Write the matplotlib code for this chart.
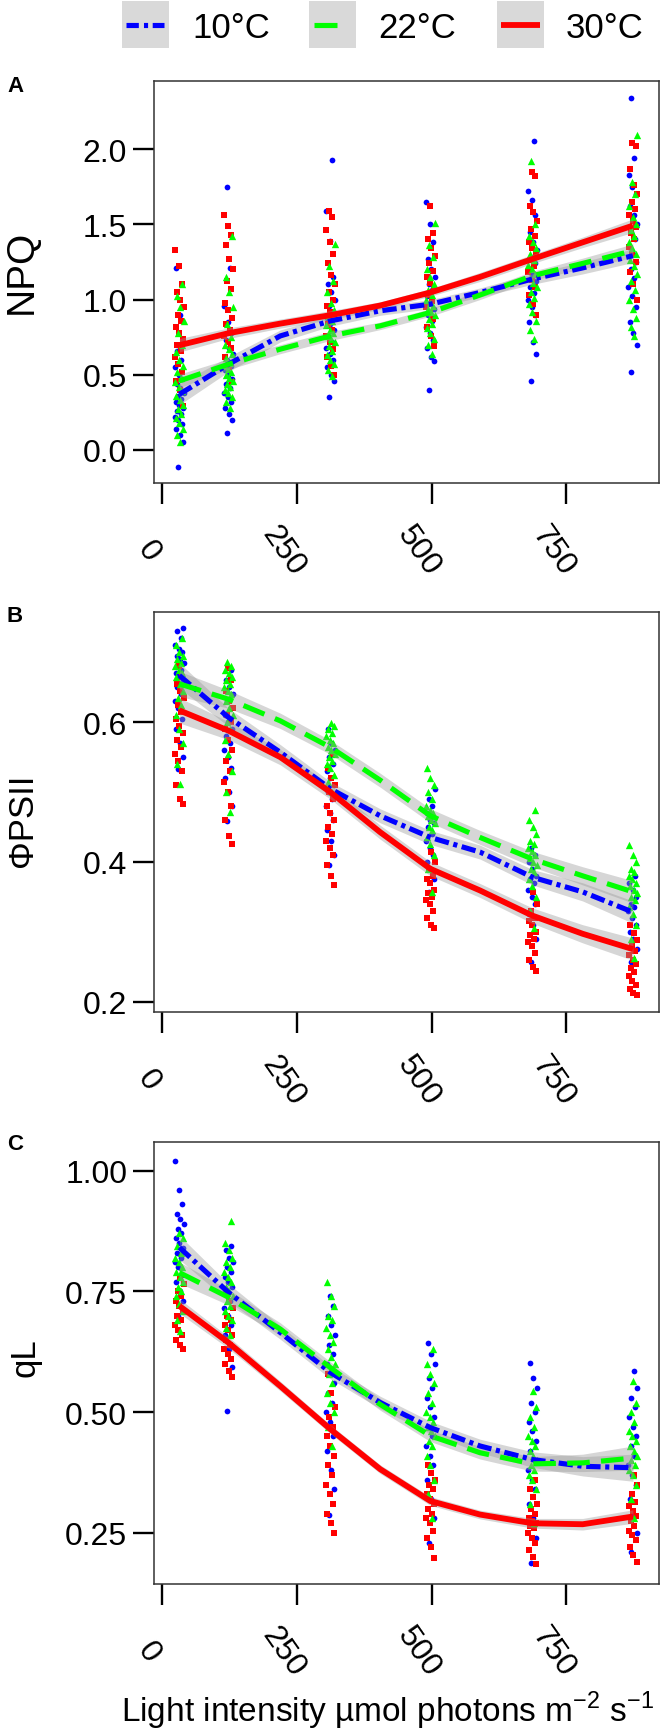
import numpy as np
import matplotlib
matplotlib.use("Agg")
import matplotlib.pyplot as plt
from matplotlib import transforms
from matplotlib.patches import Rectangle

plt.rcParams['font.family'] = ['Liberation Sans', 'DejaVu Sans']

# ---------------- data ----------------
temps = ["10°C", "22°C", "30°C"]
light_levels = [33, 124, 313, 498, 687, 873]
curve_x = [33, 124, 220, 313, 405, 498, 590, 687, 780, 873]

# NPQ (panel A) raw points per light level
npq_10 = [
    [-0.11, 0.05, 0.10, 0.14, 0.17, 0.20, 0.22, 0.24, 0.26, 0.28, 0.30, 0.32, 0.34, 0.36, 0.38, 0.41, 0.44, 0.47, 0.50, 0.55, 0.60, 0.66, 0.72, 0.90, 1.21],
    [0.11, 0.20, 0.24, 0.28, 0.32, 0.35, 0.38, 0.41, 0.44, 0.47, 0.50, 0.53, 0.56, 0.60, 0.64, 0.68, 0.73, 0.78, 0.85, 0.96, 1.21, 1.75],
    [0.35, 0.46, 0.50, 0.55, 0.60, 0.64, 0.68, 0.72, 0.76, 0.80, 0.84, 0.88, 0.92, 0.96, 1.00, 1.05, 1.10, 1.15, 1.39, 1.59, 1.93],
    [0.40, 0.59, 0.62, 0.68, 0.73, 0.78, 0.82, 0.86, 0.90, 0.94, 0.98, 1.02, 1.06, 1.10, 1.15, 1.20, 1.27, 1.38, 1.50, 1.65],
    [0.46, 0.64, 0.72, 0.85, 0.90, 0.95, 1.00, 1.04, 1.08, 1.12, 1.16, 1.20, 1.24, 1.28, 1.33, 1.38, 1.45, 1.56, 1.66, 1.72, 2.05],
    [0.52, 0.70, 0.78, 0.85, 0.95, 1.02, 1.08, 1.14, 1.20, 1.25, 1.30, 1.35, 1.40, 1.45, 1.50, 1.56, 1.62, 1.70, 1.75, 1.83, 1.94, 2.34],
]
npq_22 = [
    [0.05, 0.10, 0.14, 0.18, 0.21, 0.24, 0.27, 0.30, 0.33, 0.36, 0.39, 0.42, 0.45, 0.48, 0.52, 0.56, 0.60, 0.65, 0.70, 0.78, 0.86, 0.95, 1.02, 1.10],
    [0.28, 0.32, 0.35, 0.38, 0.40, 0.42, 0.44, 0.46, 0.48, 0.50, 0.52, 0.54, 0.56, 0.58, 0.61, 0.64, 0.67, 0.70, 0.75, 0.84, 0.95, 1.05, 1.15, 1.42],
    [0.49, 0.53, 0.57, 0.60, 0.63, 0.66, 0.69, 0.72, 0.74, 0.76, 0.78, 0.80, 0.83, 0.86, 0.89, 0.93, 0.98, 1.05, 1.12, 1.22, 1.37],
    [0.64, 0.70, 0.74, 0.78, 0.81, 0.84, 0.87, 0.90, 0.92, 0.94, 0.96, 0.98, 1.00, 1.03, 1.06, 1.10, 1.15, 1.20, 1.28, 1.36, 1.51],
    [0.74, 0.80, 0.86, 0.92, 0.97, 1.01, 1.05, 1.08, 1.11, 1.14, 1.17, 1.20, 1.23, 1.26, 1.30, 1.34, 1.38, 1.42, 1.50, 1.92],
    [0.76, 0.82, 0.88, 0.94, 1.00, 1.06, 1.12, 1.17, 1.22, 1.26, 1.30, 1.34, 1.38, 1.42, 1.46, 1.50, 1.55, 1.62, 1.70, 1.78, 2.09],
]
npq_30 = [
    [0.29, 0.40, 0.46, 0.52, 0.57, 0.62, 0.66, 0.70, 0.74, 0.78, 0.82, 0.86, 0.90, 0.95, 1.00, 1.05, 1.10, 1.22, 1.33],
    [0.45, 0.55, 0.62, 0.68, 0.72, 0.76, 0.80, 0.84, 0.88, 0.93, 0.98, 1.07, 1.12, 1.20, 1.27, 1.36, 1.43, 1.49, 1.56],
    [0.50, 0.56, 0.62, 0.67, 0.72, 0.76, 0.80, 0.84, 0.88, 0.92, 0.96, 1.00, 1.05, 1.10, 1.16, 1.24, 1.30, 1.38, 1.46, 1.55, 1.59],
    [0.69, 0.76, 0.82, 0.87, 0.91, 0.95, 0.99, 1.03, 1.07, 1.11, 1.15, 1.19, 1.24, 1.29, 1.34, 1.40, 1.44, 1.62],
    [0.90, 0.97, 1.03, 1.08, 1.13, 1.18, 1.22, 1.26, 1.30, 1.34, 1.38, 1.42, 1.47, 1.52, 1.58, 1.62, 1.82, 1.85],
    [1.00, 1.10, 1.18, 1.25, 1.30, 1.35, 1.40, 1.44, 1.48, 1.52, 1.56, 1.60, 1.65, 1.70, 1.76, 1.87, 2.02, 2.04],
]
npq_fit_10 = [0.37, 0.57, 0.758, 0.858, 0.925, 0.969, 1.047, 1.136, 1.21, 1.291]
npq_fit_22 = [0.459, 0.57, 0.67, 0.758, 0.825, 0.914, 1.03, 1.158, 1.24, 1.324]
npq_fit_30 = [0.696, 0.776, 0.84, 0.896, 0.96, 1.047, 1.15, 1.269, 1.38, 1.491]
npq_se_10 = [0.07, 0.05, 0.04, 0.035, 0.03, 0.03, 0.03, 0.035, 0.04, 0.045]
npq_se_22 = [0.045, 0.035, 0.03, 0.03, 0.025, 0.025, 0.03, 0.03, 0.035, 0.045]
npq_se_30 = [0.045, 0.035, 0.03, 0.03, 0.025, 0.025, 0.03, 0.03, 0.035, 0.045]

# PhiPSII (panel B)
phi_10 = [
    [0.533, 0.55, 0.57, 0.59, 0.605, 0.62, 0.63, 0.64, 0.65, 0.66, 0.665, 0.67, 0.675, 0.68, 0.685, 0.69, 0.695, 0.70, 0.705, 0.71, 0.72, 0.73, 0.735],
    [0.459, 0.48, 0.50, 0.52, 0.535, 0.55, 0.56, 0.57, 0.58, 0.59, 0.60, 0.61, 0.62, 0.63, 0.64, 0.65, 0.66, 0.675],
    [0.395, 0.41, 0.43, 0.445, 0.46, 0.47, 0.48, 0.49, 0.50, 0.51, 0.52, 0.53, 0.54, 0.55, 0.56, 0.57, 0.59],
    [0.357, 0.375, 0.39, 0.40, 0.41, 0.42, 0.43, 0.44, 0.45, 0.455, 0.46, 0.47, 0.48, 0.49, 0.505],
    [0.256, 0.29, 0.31, 0.325, 0.34, 0.35, 0.36, 0.37, 0.375, 0.38, 0.39, 0.40, 0.41, 0.42],
    [0.256, 0.275, 0.29, 0.30, 0.31, 0.32, 0.33, 0.335, 0.34, 0.35, 0.36, 0.37, 0.38],
]
phi_22 = [
    [0.512, 0.54, 0.57, 0.59, 0.61, 0.625, 0.635, 0.645, 0.655, 0.665, 0.67, 0.675, 0.68, 0.685, 0.69, 0.695, 0.70, 0.71, 0.72],
    [0.471, 0.50, 0.53, 0.555, 0.575, 0.59, 0.60, 0.61, 0.62, 0.63, 0.64, 0.645, 0.65, 0.655, 0.66, 0.665, 0.67, 0.675, 0.68, 0.686],
    [0.50, 0.515, 0.525, 0.535, 0.54, 0.545, 0.55, 0.555, 0.56, 0.565, 0.57, 0.575, 0.58, 0.585, 0.59, 0.595, 0.599],
    [0.357, 0.39, 0.41, 0.425, 0.435, 0.445, 0.45, 0.455, 0.46, 0.465, 0.47, 0.475, 0.48, 0.49, 0.50, 0.51, 0.52, 0.535],
    [0.306, 0.33, 0.35, 0.365, 0.375, 0.385, 0.39, 0.395, 0.40, 0.405, 0.41, 0.415, 0.42, 0.425, 0.43, 0.44, 0.45, 0.46, 0.474],
    [0.263, 0.29, 0.31, 0.325, 0.335, 0.345, 0.35, 0.355, 0.36, 0.365, 0.37, 0.375, 0.38, 0.385, 0.39, 0.40, 0.41, 0.424],
]
phi_30 = [
    [0.483, 0.49, 0.51, 0.53, 0.545, 0.555, 0.565, 0.575, 0.585, 0.595, 0.605, 0.615, 0.625, 0.635, 0.645, 0.655, 0.665, 0.68],
    [0.426, 0.437, 0.46, 0.48, 0.50, 0.515, 0.53, 0.545, 0.56, 0.575, 0.59, 0.60, 0.61, 0.62, 0.63, 0.645, 0.66, 0.677],
    [0.367, 0.38, 0.395, 0.41, 0.42, 0.43, 0.44, 0.45, 0.46, 0.47, 0.48, 0.49, 0.50, 0.51, 0.52, 0.535, 0.555],
    [0.305, 0.31, 0.32, 0.33, 0.34, 0.345, 0.35, 0.355, 0.36, 0.37, 0.375, 0.38, 0.39, 0.40, 0.414],
    [0.244, 0.25, 0.26, 0.27, 0.28, 0.285, 0.29, 0.295, 0.30, 0.31, 0.315, 0.32, 0.33, 0.34, 0.357],
    [0.209, 0.212, 0.218, 0.224, 0.23, 0.236, 0.242, 0.248, 0.254, 0.26, 0.266, 0.272, 0.28, 0.288, 0.298, 0.31],
]
phi_fit_10 = [0.667, 0.607, 0.557, 0.5045, 0.466, 0.435, 0.414, 0.378, 0.357, 0.328]
phi_fit_22 = [0.655, 0.633, 0.602, 0.564, 0.517, 0.466, 0.435, 0.404, 0.380, 0.357]
phi_fit_30 = [0.617, 0.588, 0.550, 0.4998, 0.4425, 0.390, 0.359, 0.323, 0.297, 0.275]
phi_se_10 = [0.018, 0.013, 0.011, 0.01, 0.01, 0.01, 0.01, 0.011, 0.013, 0.016]
phi_se_22 = [0.018, 0.013, 0.011, 0.01, 0.01, 0.01, 0.01, 0.011, 0.013, 0.016]
phi_se_30 = [0.018, 0.013, 0.011, 0.01, 0.01, 0.01, 0.01, 0.011, 0.013, 0.016]

# qL (panel C)
ql_10 = [
    [0.70, 0.73, 0.75, 0.77, 0.785, 0.80, 0.81, 0.82, 0.83, 0.84, 0.85, 0.86, 0.87, 0.88, 0.89, 0.90, 0.91, 0.93, 0.96, 1.021],
    [0.502, 0.594, 0.63, 0.66, 0.68, 0.70, 0.715, 0.73, 0.745, 0.76, 0.77, 0.78, 0.79, 0.80, 0.81, 0.82, 0.835, 0.845],
    [0.288, 0.34, 0.38, 0.42, 0.45, 0.48, 0.50, 0.52, 0.54, 0.56, 0.58, 0.60, 0.62, 0.64, 0.66, 0.68, 0.70, 0.72, 0.741],
    [0.23, 0.28, 0.32, 0.36, 0.39, 0.41, 0.43, 0.45, 0.47, 0.49, 0.51, 0.53, 0.55, 0.57, 0.60, 0.62, 0.643],
    [0.187, 0.24, 0.28, 0.31, 0.34, 0.36, 0.38, 0.40, 0.42, 0.44, 0.46, 0.48, 0.50, 0.52, 0.55, 0.57, 0.601],
    [0.21, 0.25, 0.29, 0.32, 0.35, 0.37, 0.39, 0.41, 0.43, 0.45, 0.47, 0.49, 0.51, 0.53, 0.55, 0.585],
]
ql_22 = [
    [0.668, 0.69, 0.71, 0.725, 0.74, 0.75, 0.76, 0.77, 0.78, 0.79, 0.80, 0.81, 0.82, 0.83, 0.845, 0.86, 0.87],
    [0.66, 0.675, 0.69, 0.70, 0.71, 0.72, 0.73, 0.74, 0.75, 0.76, 0.77, 0.78, 0.79, 0.80, 0.81, 0.82, 0.835, 0.85, 0.896],
    [0.43, 0.47, 0.50, 0.52, 0.54, 0.56, 0.58, 0.60, 0.615, 0.63, 0.645, 0.66, 0.675, 0.69, 0.70, 0.72, 0.74, 0.769],
    [0.28, 0.33, 0.36, 0.39, 0.41, 0.43, 0.44, 0.45, 0.46, 0.47, 0.48, 0.49, 0.50, 0.52, 0.54, 0.56, 0.58, 0.60, 0.63],
    [0.27, 0.31, 0.34, 0.36, 0.37, 0.38, 0.39, 0.40, 0.41, 0.42, 0.43, 0.44, 0.45, 0.47, 0.49, 0.51, 0.544],
    [0.28, 0.32, 0.35, 0.37, 0.38, 0.39, 0.40, 0.41, 0.42, 0.43, 0.44, 0.45, 0.46, 0.48, 0.50, 0.52, 0.565],
]
ql_30 = [
    [0.63, 0.64, 0.65, 0.66, 0.67, 0.68, 0.69, 0.70, 0.71, 0.72, 0.73, 0.74, 0.75, 0.765, 0.78],
    [0.572, 0.585, 0.60, 0.61, 0.62, 0.63, 0.64, 0.65, 0.66, 0.67, 0.68, 0.69, 0.70, 0.715, 0.73, 0.75],
    [0.25, 0.27, 0.29, 0.31, 0.33, 0.35, 0.37, 0.39, 0.41, 0.43, 0.45, 0.47, 0.49, 0.51, 0.54, 0.58],
    [0.199, 0.22, 0.24, 0.255, 0.27, 0.28, 0.29, 0.30, 0.31, 0.32, 0.33, 0.34, 0.35, 0.36, 0.375, 0.39],
    [0.185, 0.20, 0.215, 0.23, 0.24, 0.25, 0.26, 0.265, 0.27, 0.275, 0.28, 0.29, 0.30, 0.31, 0.325, 0.34, 0.36],
    [0.189, 0.205, 0.22, 0.235, 0.245, 0.255, 0.265, 0.275, 0.285, 0.295, 0.305, 0.315, 0.33, 0.35, 0.37],
]
ql_fit_10 = [0.841, 0.748, 0.665, 0.582, 0.52, 0.468, 0.43, 0.402, 0.388, 0.385]
ql_fit_22 = [0.789, 0.738, 0.672, 0.592, 0.516, 0.451, 0.416, 0.393, 0.395, 0.405]
ql_fit_30 = [0.72, 0.644, 0.554, 0.4645, 0.382, 0.316, 0.288, 0.27, 0.268, 0.284]
ql_se_10 = [0.025, 0.018, 0.014, 0.013, 0.013, 0.013, 0.014, 0.016, 0.02, 0.028]
ql_se_22 = [0.022, 0.016, 0.013, 0.012, 0.012, 0.012, 0.013, 0.015, 0.018, 0.025]
ql_se_30 = [0.015, 0.012, 0.01, 0.009, 0.009, 0.009, 0.009, 0.01, 0.012, 0.014]

x_ticks = [0, 250, 500, 750]
x_label = r'Light intensity µmol photons m$^{\mathregular{-2}}$ s$^{\mathregular{-1}}$'

# ---------------- styling ----------------
W, H = 666, 1731
fig = plt.figure(figsize=(W / 100, H / 100), dpi=100)

colors = {"10°C": "#0000FF", "22°C": "#00FF00", "30°C": "#FF0000"}
markers = {"10°C": ("o", 17), "22°C": ("^", 28), "30°C": ("s", 18)}
lw = 3.7
styles = {"10°C": (0, (2.8, 0.9, 0.8, 0.9)), "22°C": (0, (4.4, 2.2)), "30°C": "-"}
lws = {"10°C": lw, "22°C": lw, "30°C": 4.2}


def rect(l, t, r, b):
    return [l / W, 1 - b / H, (r - l) / W, (b - t) / H]


panels = [
    dict(rect=rect(154, 82, 659, 483.5), ylim=(-0.216, 2.452),
         yticks=[0.0, 0.5, 1.0, 1.5, 2.0], ylabels=["0.0", "0.5", "1.0", "1.5", "2.0"],
         pts={"10°C": npq_10, "22°C": npq_22, "30°C": npq_30},
         fit={"10°C": npq_fit_10, "22°C": npq_fit_22, "30°C": npq_fit_30},
         se={"10°C": npq_se_10, "22°C": npq_se_22, "30°C": npq_se_30}),
    dict(rect=rect(154, 612.5, 659, 1013), ylim=(0.185, 0.7586),
         yticks=[0.2, 0.4, 0.6], ylabels=["0.2", "0.4", "0.6"],
         pts={"10°C": phi_10, "22°C": phi_22, "30°C": phi_30},
         fit={"10°C": phi_fit_10, "22°C": phi_fit_22, "30°C": phi_fit_30},
         se={"10°C": phi_se_10, "22°C": phi_se_22, "30°C": phi_se_30}),
    dict(rect=rect(154, 1142.7, 659, 1584.5), ylim=(0.1453, 1.060),
         yticks=[0.25, 0.50, 0.75, 1.00], ylabels=["0.25", "0.50", "0.75", "1.00"],
         pts={"10°C": ql_10, "22°C": ql_22, "30°C": ql_30},
         fit={"10°C": ql_fit_10, "22°C": ql_fit_22, "30°C": ql_fit_30},
         se={"10°C": ql_se_10, "22°C": ql_se_22, "30°C": ql_se_30}),
]

for p in panels:
    ax = fig.add_axes(p["rect"])
    ax.set_xlim(-13.9, 921.3)
    ax.set_ylim(*p["ylim"])
    # points (jittered horizontally around each light level)
    for t in ["10°C", "30°C", "22°C"]:
        mk, sz = markers[t]
        for lev, ys in zip(light_levels, p["pts"][t]):
            n = len(ys)
            offs = (((np.arange(n) * 0.618 + 0.31 * (temps.index(t) + 1)) % 1.0) - 0.5) * 17
            ax.scatter(lev + offs, ys, s=sz, marker=mk, color=colors[t], linewidths=0, zorder=2)
    # confidence bands
    for t in temps:
        f = np.array(p["fit"][t]); s = np.array(p["se"][t])
        ax.fill_between(curve_x, f - s, f + s, color="#999999", alpha=0.4, linewidth=0, zorder=3)
    # fitted lines
    for t in temps:
        ax.plot(curve_x, p["fit"][t], color=colors[t], lw=lws[t], linestyle=styles[t],
                dash_capstyle="butt", solid_capstyle="butt", solid_joinstyle="round", zorder=4)
    ax.set_yticks(p["yticks"])
    ax.set_yticklabels(p["ylabels"], fontsize=23)
    ax.set_xticks(x_ticks)
    ax.set_xticklabels([])
    ax.tick_params(axis="both", direction="out", length=15, width=1.7, color="black")
    ax.tick_params(axis="y", pad=4.3)
    for sp in ax.spines.values():
        sp.set_color("#333333")
        sp.set_linewidth(1.1)
    trans = transforms.blended_transform_factory(ax.transData, ax.transAxes)
    trans = transforms.offset_copy(trans, fig=fig, x=-13 * 0.72, y=-68 * 0.72, units="points")
    for v in x_ticks:
        ax.text(v, 0, str(v), transform=trans, rotation=-55, rotation_mode="anchor",
                ha="center", va="center", fontsize=23)

# overlay for legend and labels (pixel coordinates)
ov = fig.add_axes([0, 0, 1, 1], zorder=10)
ov.set_xlim(0, W)
ov.set_ylim(H, 0)
ov.axis("off")
ov.patch.set_alpha(0)

key_left = [121.7, 309, 497]
text_left = [192.7, 378, 566]
for i, t in enumerate(temps):
    ov.add_patch(Rectangle((key_left[i], 1.7), 46.8, 47.3, color="#D9D9D9", linewidth=0))
    ov.text(text_left[i], 38, t, fontsize=25, ha="left", va="baseline")
ov.plot([126, 163.5], [25.5, 25.5], color=colors["10°C"], lw=lw, linestyle=(0, (2.4, 1.0, 0.8, 0.9)),
        dash_capstyle="butt")
ov.plot([314, 337], [25.5, 25.5], color=colors["22°C"], lw=lw, solid_capstyle="butt")
ov.plot([501, 540], [25.5, 25.5], color=colors["30°C"], lw=4.2, solid_capstyle="butt")

for lab, y in zip(["A", "B", "C"], [87, 617, 1145]):
    ov.text(15, y, lab, fontsize=16, fontweight="bold", ha="center", va="center")

ov.text(22, 272, "NPQ", fontsize=28, rotation=90, ha="center", va="center")
ov.text(23, 820, "ΦPSII", fontsize=25, rotation=90, ha="center", va="center")
ov.text(25, 1358, "qL", fontsize=25, rotation=90, ha="center", va="center")

ov.text(121, 1722, x_label, fontsize=24, ha="left", va="baseline")

fig.savefig("out.png", dpi=100)
